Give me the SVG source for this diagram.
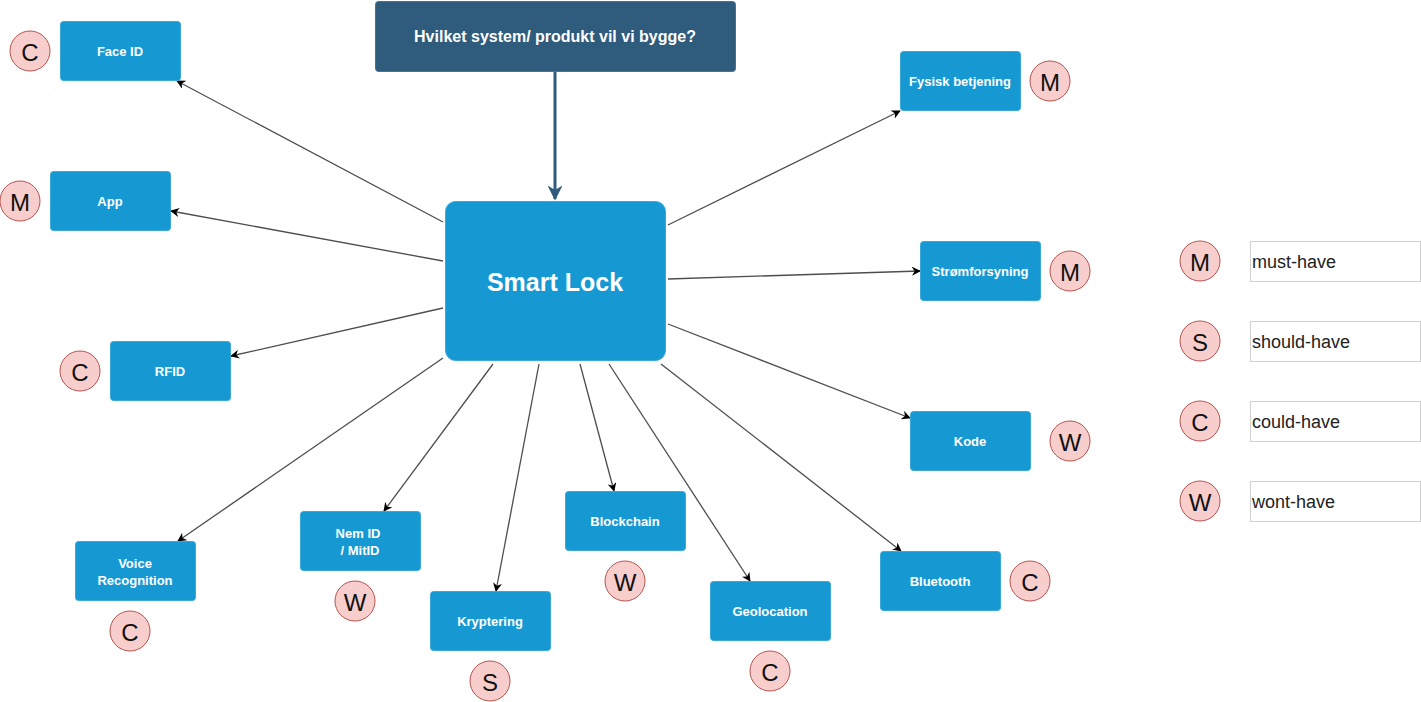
<svg xmlns="http://www.w3.org/2000/svg" width="1421" height="702" viewBox="0 0 1421 702">
<style>
.n{fill:#1699d3;stroke:#3aa8d8;stroke-width:1}
.t{font-family:"Liberation Sans",Arial,sans-serif;font-weight:bold;font-size:13px;fill:#fff;text-anchor:middle;dominant-baseline:central}
.c{fill:#f8cecc;stroke:#b85450;stroke-width:1}
.ct{font-family:"Liberation Sans",Arial,sans-serif;font-size:24px;fill:#111;text-anchor:middle;dominant-baseline:central}
.lg{fill:#fff;stroke:#d0d0d0;stroke-width:1}
.lt{font-family:"Liberation Sans",Arial,sans-serif;font-size:18px;fill:#222;dominant-baseline:central}
.e{stroke:#4d4d4d;stroke-width:1.3;fill:none;marker-end:url(#a)}
</style>
<defs>
<marker id="a" viewBox="0 0 10 10" refX="9" refY="5" markerWidth="9" markerHeight="9" markerUnits="userSpaceOnUse" orient="auto"><path d="M0,0 L10,5 L0,10 L3,5 Z" fill="#000"/></marker>
<marker id="b" viewBox="0 0 10 10" refX="9" refY="5" markerWidth="5" markerHeight="5" orient="auto"><path d="M0,0 L10,5 L0,10 L3,5 Z" fill="#2f5b7c"/></marker>
</defs>
<g id="connectors">
<line class="e" x1="443" y1="222" x2="177" y2="81"/>
<line class="e" x1="443" y1="261" x2="171" y2="211"/>
<line class="e" x1="443" y1="308" x2="231" y2="356"/>
<line class="e" x1="443" y1="358" x2="178" y2="541"/>
<line class="e" x1="493" y1="364" x2="384" y2="511"/>
<line class="e" x1="539" y1="364" x2="496" y2="591"/>
<line class="e" x1="580" y1="364" x2="614" y2="491"/>
<line class="e" x1="609" y1="364" x2="750" y2="581"/>
<line class="e" x1="661" y1="364" x2="901" y2="551"/>
<line class="e" x1="668" y1="324" x2="910" y2="418"/>
<line class="e" x1="668" y1="279" x2="920" y2="271"/>
<line class="e" x1="668" y1="225" x2="900" y2="111"/>
<line x1="555" y1="72" x2="555" y2="199" stroke="#2f5b7c" stroke-width="3" marker-end="url(#b)"/>
</g>
<g id="top"><rect x="375.5" y="1.5" width="360" height="70" rx="3" fill="#2f5b7c" stroke="#4a7190"/><text class="t" x="555" y="36" style="font-size:16px">Hvilket system/ produkt vil vi bygge?</text></g>
<g id="smartlock"><rect class="n" x="445.5" y="201.5" width="220" height="159" rx="10"/><text class="t" x="555" y="282" style="font-size:25px">Smart Lock</text></g>
<g id="faceid"><rect class="n" x="60.5" y="21.5" width="120" height="59" rx="3"/><text class="t" x="120" y="51">Face ID</text></g>
<g id="app"><rect class="n" x="50.5" y="171.5" width="120" height="59" rx="3"/><text class="t" x="110" y="201">App</text></g>
<g id="rfid"><rect class="n" x="110.5" y="341.5" width="120" height="59" rx="3"/><text class="t" x="170" y="371">RFID</text></g>
<g id="voice"><rect class="n" x="75.5" y="541.5" width="120" height="59" rx="3"/><text class="t" x="135" y="563">Voice</text><text class="t" x="135" y="580">Recognition</text></g>
<g id="nemid"><rect class="n" x="300.5" y="511.5" width="120" height="59" rx="3"/><text class="t" x="358" y="533">Nem ID</text><text class="t" x="360" y="550">/ MitID</text></g>
<g id="kryptering"><rect class="n" x="430.5" y="591.5" width="120" height="59" rx="3"/><text class="t" x="490" y="621">Kryptering</text></g>
<g id="blockchain"><rect class="n" x="565.5" y="491.5" width="120" height="59" rx="3"/><text class="t" x="625" y="521">Blockchain</text></g>
<g id="geolocation"><rect class="n" x="710.5" y="581.5" width="120" height="59" rx="3"/><text class="t" x="770" y="611">Geolocation</text></g>
<g id="bluetooth"><rect class="n" x="880.5" y="551.5" width="120" height="59" rx="3"/><text class="t" x="940" y="581">Bluetooth</text></g>
<g id="kode"><rect class="n" x="910.5" y="411.5" width="120" height="59" rx="3"/><text class="t" x="970" y="441">Kode</text></g>
<g id="strom"><rect class="n" x="920.5" y="241.5" width="120" height="59" rx="3"/><text class="t" x="980" y="271">Strømforsyning</text></g>
<g id="fysisk"><rect class="n" x="900.5" y="51.5" width="120" height="59" rx="3"/><text class="t" x="960" y="81">Fysisk betjening</text></g>
<g id="badges">
<g><circle class="c" cx="30" cy="51" r="20"/><text class="ct" x="30" y="52">C</text></g>
<g><circle class="c" cx="20" cy="201" r="20"/><text class="ct" x="20" y="202">M</text></g>
<g><circle class="c" cx="80" cy="371" r="20"/><text class="ct" x="80" y="372">C</text></g>
<g><circle class="c" cx="130" cy="631" r="20"/><text class="ct" x="130" y="632">C</text></g>
<g><circle class="c" cx="355" cy="601" r="20"/><text class="ct" x="355" y="602">W</text></g>
<g><circle class="c" cx="490" cy="681" r="20"/><text class="ct" x="490" y="682">S</text></g>
<g><circle class="c" cx="625" cy="581" r="20"/><text class="ct" x="625" y="582">W</text></g>
<g><circle class="c" cx="770" cy="671" r="20"/><text class="ct" x="770" y="672">C</text></g>
<g><circle class="c" cx="1030" cy="581" r="20"/><text class="ct" x="1030" y="582">C</text></g>
<g><circle class="c" cx="1070" cy="441" r="20"/><text class="ct" x="1070" y="442">W</text></g>
<g><circle class="c" cx="1070" cy="271" r="20"/><text class="ct" x="1070" y="272">M</text></g>
<g><circle class="c" cx="1050" cy="81" r="20"/><text class="ct" x="1050" y="82">M</text></g>
</g>
<g id="legend">
<g><circle class="c" cx="1200" cy="261" r="20"/><text class="ct" x="1200" y="262">M</text><rect class="lg" x="1250.5" y="241.5" width="170" height="40"/><text class="lt" x="1252" y="262">must-have</text></g>
<g><circle class="c" cx="1200" cy="341" r="20"/><text class="ct" x="1200" y="342">S</text><rect class="lg" x="1250.5" y="321.5" width="170" height="40"/><text class="lt" x="1252" y="342">should-have</text></g>
<g><circle class="c" cx="1200" cy="421" r="20"/><text class="ct" x="1200" y="422">C</text><rect class="lg" x="1250.5" y="401.5" width="170" height="40"/><text class="lt" x="1252" y="422">could-have</text></g>
<g><circle class="c" cx="1200" cy="501" r="20"/><text class="ct" x="1200" y="502">W</text><rect class="lg" x="1250.5" y="481.5" width="170" height="40"/><text class="lt" x="1252" y="502">wont-have</text></g>
</g>
</svg>
